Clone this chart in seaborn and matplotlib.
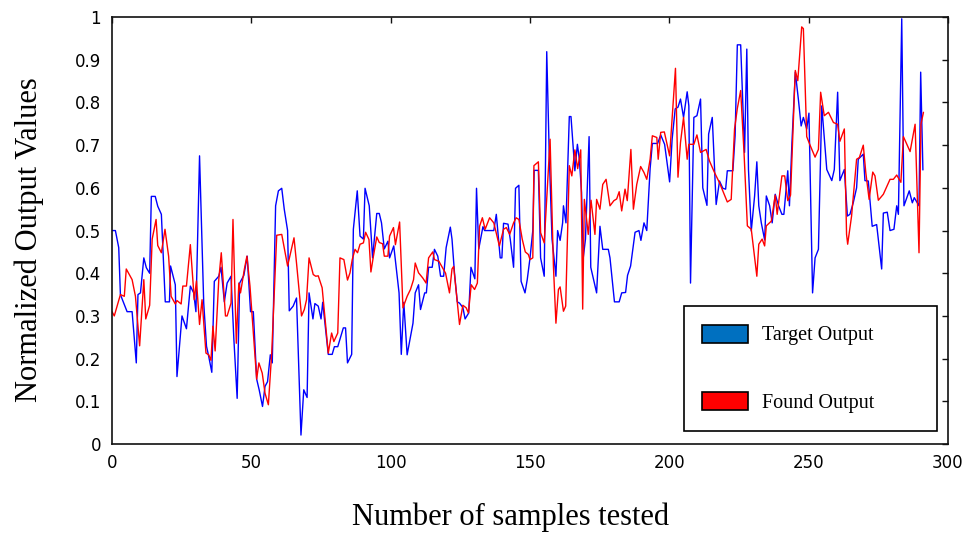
import numpy as np
import pandas as pd
import seaborn as sns
import matplotlib.pyplot as plt
from matplotlib.patches import Patch

# | Data (line vertices: sample number, normalized value) |---------------------------------------------------------|
target_x = [0, 1.2, 2.4, 3.0, 4.2, 5.4, 7.2, 8.7, 9.3, 10.2,
            11.4, 12.3, 13.5, 14.1, 15.5, 16.4, 17.7, 19.1, 20.6, 21.0,
            22.7, 23.3, 25.1, 26.7, 28.1, 29.3, 30.1, 31.4, 32.9, 33.9,
            34.7, 35.8, 36.7, 38.3, 39.1, 40.3, 41.3, 42.7, 43.7, 44.9,
            45.8, 47.3, 48.5, 49.7, 50.7, 51.9, 52.8, 54.0, 54.9, 55.8,
            56.8, 57.5, 58.7, 59.7, 60.9, 61.8, 63.0, 63.6, 65.0, 66.2,
            67.8, 68.8, 70.0, 70.7, 72.1, 72.8, 74.0, 75.0, 75.6, 77.6,
            79.0, 79.8, 81.0, 83.0, 83.8, 84.5, 86.0, 86.6, 88.0, 89.0,
            90.2, 90.8, 92.3, 93.5, 95.0, 95.9, 96.7, 97.7, 99.0, 99.6,
            101.1, 103.0, 103.8, 104.7, 105.9, 108.0, 108.8, 110.0, 110.7, 112.2,
            112.8, 113.6, 114.9, 115.7, 116.9, 117.9, 119.0, 119.9, 121.4, 122.0,
            122.9, 123.9, 124.7, 125.9, 126.7, 128.0, 128.8, 130.2, 130.8, 131.6,
            133.1, 133.7, 137.0, 137.9, 139.3, 139.9, 140.5, 142.1, 142.9, 144.1,
            144.8, 146.0, 146.8, 148.2, 149.0, 150.0, 151.0, 151.5, 153.0, 153.8,
            155.1, 156.0, 156.9, 157.9, 159.3, 159.9, 160.8, 161.7, 162.0, 162.9,
            164.1, 164.7, 166.1, 167.0, 167.7, 168.5, 169.1, 169.9, 171.2, 171.8,
            173.9, 175.1, 176.1, 178.1, 178.7, 180.3, 182.0, 182.9, 184.3, 185.0,
            186.1, 187.7, 189.1, 189.8, 190.9, 191.9, 193.1, 193.9, 195.8, 196.9,
            198.3, 200.1, 201.0, 202.1, 203.1, 204.0, 205.1, 206.4, 207.0, 207.6,
            208.8, 209.9, 211.2, 212.0, 213.5, 214.1, 215.4, 216.8, 218.0, 219.2,
            220.2, 220.8, 222.8, 223.6, 224.4, 225.6, 227.0, 227.8, 228.4, 229.4,
            230.6, 231.4, 232.1, 233.0, 234.2, 234.8, 236.0, 236.9, 238.0, 239.2,
            240.4, 241.1, 242.5, 243.1, 244.0, 245.2, 246.3, 247.3, 248.1, 249.3,
            250.1, 251.4, 252.3, 253.5, 254.7, 256.5, 258.3, 259.2, 260.4, 261.2,
            262.8, 263.9, 264.8, 266.0, 267.2, 267.8, 269.6, 270.2, 271.4, 272.8,
            274.4, 276.2, 276.8, 278.2, 279.2, 280.6, 281.6, 282.2, 283.4, 284.2,
            286.1, 287.2, 287.9, 289.6, 290.2, 291.0]
target_y = [0.50, 0.50, 0.46, 0.35, 0.33, 0.31, 0.31, 0.19, 0.35, 0.354,
            0.436, 0.413, 0.40, 0.58, 0.58, 0.557, 0.538, 0.333, 0.333, 0.417,
            0.373, 0.158, 0.30, 0.27, 0.37, 0.354, 0.31, 0.675, 0.33, 0.229,
            0.205, 0.168, 0.381, 0.393, 0.414, 0.333, 0.377, 0.393, 0.248, 0.107,
            0.377, 0.395, 0.44, 0.31, 0.31, 0.152, 0.127, 0.088, 0.135, 0.146,
            0.209, 0.19, 0.558, 0.593, 0.599, 0.55, 0.50, 0.312, 0.323, 0.342,
            0.021, 0.127, 0.109, 0.354, 0.293, 0.329, 0.323, 0.293, 0.332, 0.21,
            0.21, 0.228, 0.228, 0.272, 0.272, 0.19, 0.21, 0.503, 0.593, 0.487,
            0.48, 0.599, 0.558, 0.436, 0.54, 0.54, 0.518, 0.457, 0.475, 0.436,
            0.464, 0.354, 0.21, 0.332, 0.209, 0.283, 0.354, 0.373, 0.315, 0.354,
            0.354, 0.414, 0.414, 0.456, 0.44, 0.393, 0.393, 0.46, 0.508, 0.48,
            0.40, 0.333, 0.33, 0.32, 0.293, 0.307, 0.414, 0.387, 0.599, 0.457,
            0.509, 0.50, 0.50, 0.538, 0.436, 0.436, 0.517, 0.515, 0.48, 0.414,
            0.599, 0.606, 0.381, 0.354, 0.385, 0.436, 0.50, 0.641, 0.641, 0.436,
            0.393, 0.919, 0.679, 0.48, 0.393, 0.50, 0.477, 0.518, 0.558, 0.518,
            0.767, 0.767, 0.64, 0.702, 0.667, 0.589, 0.436, 0.48, 0.72, 0.414,
            0.354, 0.51, 0.456, 0.456, 0.436, 0.333, 0.333, 0.354, 0.355, 0.395,
            0.417, 0.496, 0.50, 0.477, 0.518, 0.50, 0.645, 0.704, 0.704, 0.724,
            0.702, 0.614, 0.714, 0.785, 0.789, 0.808, 0.765, 0.825, 0.792, 0.377,
            0.765, 0.769, 0.808, 0.60, 0.559, 0.726, 0.765, 0.561, 0.616, 0.599,
            0.597, 0.64, 0.64, 0.722, 0.935, 0.935, 0.683, 0.925, 0.643, 0.499,
            0.581, 0.661, 0.558, 0.518, 0.478, 0.581, 0.558, 0.518, 0.585, 0.558,
            0.538, 0.538, 0.64, 0.558, 0.706, 0.871, 0.808, 0.745, 0.765, 0.738,
            0.775, 0.354, 0.436, 0.456, 0.792, 0.643, 0.617, 0.643, 0.824, 0.617,
            0.643, 0.534, 0.538, 0.565, 0.60, 0.667, 0.679, 0.617, 0.616, 0.51,
            0.514, 0.41, 0.541, 0.543, 0.50, 0.503, 0.558, 0.538, 0.996, 0.558,
            0.593, 0.565, 0.577, 0.558, 0.871, 0.642]

found_x = [0, 0.8, 3.0, 4.4, 5.1, 7.2, 8.4, 9.9, 11.4, 12.1,
           13.5, 14.4, 15.8, 16.4, 17.7, 19.0, 20.3, 21.2, 22.7, 23.3,
           24.8, 25.4, 26.7, 28.1, 29.5, 30.3, 31.4, 32.3, 33.7, 34.7,
           35.5, 36.2, 37.0, 38.3, 39.2, 40.7, 41.3, 42.7, 43.4, 44.6,
           45.5, 46.1, 47.5, 48.4, 49.5, 51.9, 52.7, 53.9, 54.9, 56.1,
           57.3, 59.1, 60.9, 63.0, 65.3, 66.2, 68.0, 69.0, 69.8, 70.7,
           72.2, 73.1, 74.0, 75.4, 77.6, 78.8, 79.6, 81.0, 81.8, 83.2,
           84.5, 85.4, 86.2, 87.2, 88.1, 89.0, 90.2, 91.0, 92.2, 92.9,
           93.8, 95.0, 95.9, 97.1, 97.7, 99.0, 99.6, 101.0, 101.7, 103.2,
           104.4, 105.9, 107.1, 108.2, 108.8, 110.0, 111.5, 112.7, 113.6, 115.1,
           115.7, 117.3, 119.7, 121.1, 122.0, 122.6, 123.8, 124.7, 125.9, 127.1,
           127.9, 128.9, 130.1, 131.1, 131.9, 132.9, 133.9, 135.5, 137.0, 139.0,
           140.5, 141.5, 142.7, 144.1, 145.0, 146.0, 147.2, 148.3, 149.4, 150.0,
           151.0, 151.4, 153.0, 153.8, 155.1, 157.2, 158.4, 159.3, 160.2, 160.8,
           162.0, 162.8, 164.1, 165.0, 166.1, 167.1, 168.2, 168.9, 169.5, 170.9,
           171.9, 173.3, 173.9, 175.1, 176.1, 177.3, 178.7, 180.1, 181.1, 182.0,
           182.9, 184.1, 184.9, 186.2, 187.1, 188.3, 189.7, 190.9, 191.9, 193.1,
           193.9, 195.5, 196.0, 196.9, 198.2, 200.1, 201.3, 202.2, 203.1, 204.0,
           205.1, 206.4, 207.0, 208.8, 209.9, 211.2, 213.2, 214.4, 216.2, 218.0,
           220.8, 222.2, 223.4, 224.4, 225.6, 226.8, 228.0, 229.4, 231.4, 232.1,
           233.3, 234.2, 234.8, 236.6, 238.0, 238.7, 240.4, 241.4, 242.5, 243.5,
           245.2, 246.1, 247.5, 248.1, 249.3, 250.5, 252.3, 253.5, 254.3, 255.6,
           257.1, 258.9, 260.4, 261.2, 262.8, 263.6, 264.0, 265.4, 267.2, 268.2,
           269.6, 270.5, 271.7, 273.0, 273.8, 275.0, 276.8, 279.2, 280.4, 281.6,
           283.1, 284.0, 286.4, 288.2, 289.6, 290.3, 291.2]
found_y = [0.31, 0.30, 0.35, 0.346, 0.41, 0.385, 0.346, 0.23, 0.385, 0.293,
           0.325, 0.48, 0.526, 0.465, 0.448, 0.503, 0.44, 0.346, 0.328, 0.336,
           0.328, 0.37, 0.37, 0.467, 0.338, 0.382, 0.28, 0.338, 0.213, 0.209,
           0.196, 0.276, 0.218, 0.385, 0.448, 0.30, 0.30, 0.33, 0.526, 0.236,
           0.377, 0.354, 0.41, 0.44, 0.37, 0.152, 0.19, 0.166, 0.119, 0.092,
           0.213, 0.489, 0.491, 0.417, 0.483, 0.424, 0.30, 0.315, 0.338, 0.436,
           0.397, 0.393, 0.394, 0.366, 0.213, 0.26, 0.24, 0.26, 0.436, 0.432,
           0.384, 0.401, 0.432, 0.456, 0.448, 0.468, 0.471, 0.496, 0.479, 0.403,
           0.44, 0.485, 0.472, 0.469, 0.44, 0.44, 0.487, 0.507, 0.467, 0.52,
           0.319, 0.346, 0.362, 0.385, 0.424, 0.401, 0.389, 0.377, 0.436, 0.45,
           0.432, 0.428, 0.40, 0.354, 0.41, 0.416, 0.338, 0.28, 0.325, 0.319,
           0.307, 0.373, 0.362, 0.377, 0.51, 0.53, 0.503, 0.53, 0.518, 0.464,
           0.503, 0.507, 0.491, 0.518, 0.53, 0.526, 0.48, 0.45, 0.444, 0.432,
           0.436, 0.652, 0.661, 0.495, 0.471, 0.714, 0.417, 0.283, 0.362, 0.368,
           0.311, 0.323, 0.652, 0.628, 0.689, 0.645, 0.689, 0.316, 0.573, 0.491,
           0.571, 0.491, 0.573, 0.55, 0.608, 0.62, 0.558, 0.570, 0.574, 0.591,
           0.546, 0.597, 0.570, 0.69, 0.55, 0.608, 0.65, 0.636, 0.62, 0.667,
           0.722, 0.718, 0.667, 0.73, 0.731, 0.675, 0.792, 0.88, 0.625, 0.706,
           0.765, 0.667, 0.702, 0.702, 0.724, 0.683, 0.69, 0.663, 0.636, 0.612,
           0.567, 0.573, 0.738, 0.786, 0.828, 0.683, 0.511, 0.503, 0.393, 0.468,
           0.48, 0.464, 0.511, 0.522, 0.583, 0.538, 0.628, 0.628, 0.57, 0.583,
           0.875, 0.851, 0.977, 0.973, 0.72, 0.70, 0.672, 0.69, 0.824, 0.769,
           0.777, 0.753, 0.749, 0.709, 0.738, 0.491, 0.468, 0.534, 0.667, 0.671,
           0.70, 0.636, 0.573, 0.637, 0.628, 0.571, 0.585, 0.62, 0.62, 0.63,
           0.613, 0.72, 0.685, 0.749, 0.448, 0.749, 0.777]

legend_labels = ['Target Output', 'Found Output']
x_ticks = [0, 50, 100, 150, 200, 250, 300]
y_ticks = [0, 0.1, 0.2, 0.3, 0.4, 0.5, 0.6, 0.7, 0.8, 0.9, 1.0]
y_tick_labels = ['0', '0.1', '0.2', '0.3', '0.4', '0.5', '0.6', '0.7', '0.8', '0.9', '1']
# |------------------------------------------------------------------------------------------------------------------|

sns.set_theme(style='white')
plt.rcParams['font.family'] = ['DejaVu Sans']
plt.rcParams['text.color'] = 'black'
plt.rcParams['axes.labelcolor'] = 'black'

target_df = pd.DataFrame({'sample': target_x, 'value': target_y})
found_df = pd.DataFrame({'sample': found_x, 'value': found_y})

fig, ax = plt.subplots(figsize=(9.76, 5.34), dpi=100)
fig.subplots_adjust(left=0.1148, right=0.9713, top=0.968, bottom=0.1685)

sns.lineplot(data=target_df, x='sample', y='value', color='#0000FF', lw=1.0,
             estimator=None, sort=False, ax=ax)
sns.lineplot(data=found_df, x='sample', y='value', color='#FF0000', lw=1.0,
             estimator=None, sort=False, ax=ax)

ax.set_xlim(0, 300)
ax.set_ylim(0, 1)
ax.set_xticks(x_ticks)
ax.set_xticklabels([str(t) for t in x_ticks])
ax.set_yticks(y_ticks)
ax.set_yticklabels(y_tick_labels)
ax.tick_params(direction='in', length=4, width=1, top=True, right=True,
               labelsize=12, pad=8, color='#111111', labelcolor='black')
ax.tick_params(axis='x', pad=7)
for spine in ax.spines.values():
    spine.set_color('#111111')
    spine.set_linewidth(1.2)

ax.set_xlabel('Number of samples tested', fontfamily='Liberation Serif', fontsize=22)
ax.set_ylabel('Normalized Output Values', fontfamily='Liberation Serif', fontsize=22)
ax.xaxis.set_label_coords(0.477, -0.138)
ax.yaxis.set_label_coords(-0.0815, 0.478)

handles = [Patch(facecolor='#0070C0', edgecolor='black', lw=1.2),
           Patch(facecolor='#FF0000', edgecolor='black', lw=1.2)]
leg = ax.legend(handles, legend_labels, loc='lower left',
                bbox_to_anchor=(0.684, 0.031, 0.303, 0.28), mode='expand',
                prop={'family': 'Liberation Serif', 'size': 14.5},
                handlelength=2.3, handleheight=1.0, handletextpad=0.7,
                labelspacing=2.3, borderpad=0.9, borderaxespad=0,
                frameon=True, fancybox=False, edgecolor='black', framealpha=1)
leg.get_frame().set_linewidth(1.2)
for text in leg.get_texts():
    text.set_color('black')

fig.savefig('out.png', dpi=100)
